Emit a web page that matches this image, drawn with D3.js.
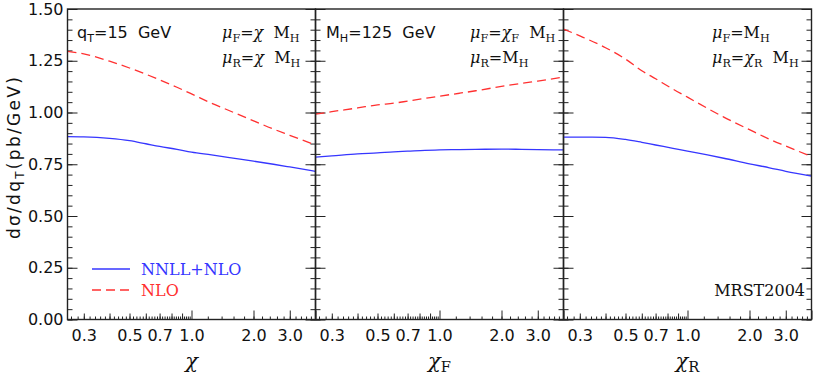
<!DOCTYPE html>
<html>
<head>
<meta charset="utf-8">
<script src="https://cdn.jsdelivr.net/npm/d3@7/dist/d3.min.js"></script>
<style>
body { margin: 0; background: #fff; }
text { fill: #111; white-space: pre; }
.sans { font-family: "DejaVu Sans", sans-serif; font-size: 16px; }
.serif { font-family: "DejaVu Serif", serif; font-size: 16px; }
</style>
</head>
<body>
<svg id="chart"></svg>
<script>
const width = 817;
const height = 380;
const plotLeft = 67.5;
const panelWidth = 248;
const plotTop = 9;
const plotBottom = 319.5;

const chi = [0.25, 0.3, 0.4, 0.5, 0.6, 0.7, 0.85, 1.0, 1.25, 1.5, 2.0, 2.5, 3.0, 4.0];

// panel 1: muF = muR = chi MH
const nnllChi = [0.883, 0.882, 0.875, 0.864, 0.849, 0.836, 0.822, 0.809, 0.795, 0.783, 0.765, 0.750, 0.737, 0.716];
const nloChi  = [1.295, 1.283, 1.248, 1.215, 1.185, 1.158, 1.122, 1.090, 1.045, 1.012, 0.960, 0.920, 0.890, 0.843];
// panel 2: muF = chiF MH
const nnllChiF = [0.784, 0.790, 0.800, 0.805, 0.810, 0.813, 0.817, 0.819, 0.821, 0.822, 0.823, 0.822, 0.821, 0.819];
const nloChiF  = [0.992, 1.004, 1.022, 1.037, 1.045, 1.055, 1.068, 1.079, 1.093, 1.105, 1.126, 1.141, 1.152, 1.171];
// panel 3: muR = chiR MH
const nnllChiR = [0.881, 0.881, 0.880, 0.870, 0.856, 0.843, 0.827, 0.813, 0.795, 0.779, 0.752, 0.733, 0.716, 0.693];
const nloChiR  = [1.403, 1.370, 1.313, 1.258, 1.202, 1.163, 1.113, 1.074, 1.020, 0.978, 0.917, 0.871, 0.838, 0.787];

const xLabels = [0.3, 0.5, 0.7, 1.0, 2.0, 3.0];
const xMajor = [1, 2, 3, 4];
const xMedium = [0.3, 0.4, 0.5, 0.6, 0.7, 0.8, 0.9];
const xMinor = d3.range(0.26, 0.99, 0.02).concat(d3.range(1.2, 3.9, 0.2));
const yMajor = [0, 0.25, 0.5, 0.75, 1.0, 1.25, 1.5];
const yMinor = d3.range(0, 1.51, 0.05);

const blue = '#3636ff';
const red = '#ff3030';

const svg = d3.select('#chart').attr('width', width).attr('height', height);

const y = d3.scaleLinear().domain([0, 1.5]).range([plotBottom, plotTop]);

function richText(sel, x, yy, parts, cls) {
  const t = sel.append('text').attr('x', x).attr('y', yy).attr('class', cls);
  let shift = 0;
  parts.forEach(p => {
    const s = p.sub ? 4 : 0;
    const ts = t.append('tspan').text(p.t).attr('dy', s - shift);
    if (p.sub) ts.style('font-size', '70%');
    if (p.it) ts.style('font-style', 'italic');
    if (p.dx) ts.attr('dx', p.dx);
    shift = s;
  });
  return t;
}

const panels = [
  {nnll: nnllChi, nlo: nloChi, sub: ''},
  {nnll: nnllChiF, nlo: nloChiF, sub: 'F'},
  {nnll: nnllChiR, nlo: nloChiR, sub: 'R'}
];

panels.forEach((p, i) => {
  const x0 = plotLeft + i * panelWidth;
  const x = d3.scaleLog().domain([0.25, 4]).range([x0, x0 + panelWidth]);
  const g = svg.append('g');

  const tickAxis = (vals, len) => {
    g.append('g').attr('transform', `translate(0, ${plotBottom})`)
      .call(d3.axisBottom(x).tickValues(vals).tickSize(-len).tickFormat(''))
      .call(a => a.select('.domain').remove())
      .selectAll('line').attr('stroke', '#222');
  };
  tickAxis(xMinor, 3);
  tickAxis(xMedium, 6);
  tickAxis(xMajor, 9);

  g.append('g').attr('transform', `translate(0, ${plotBottom})`)
    .call(d3.axisBottom(x).tickValues(xLabels).tickSize(0).tickPadding(10).tickFormat(d3.format('.1f')))
    .call(a => a.select('.domain').remove())
    .selectAll('text').attr('class', 'sans').style('font-size', '16px').attr('fill', '#111');

  [[d3.axisLeft, x0], [d3.axisRight, x0 + panelWidth]].forEach(([ax, pos]) => {
    g.append('g').attr('transform', `translate(${pos}, 0)`)
      .call(ax(y).tickValues(yMinor).tickSize(-5).tickFormat(''))
      .call(a => a.select('.domain').remove())
      .selectAll('line').attr('stroke', '#222');
    g.append('g').attr('transform', `translate(${pos}, 0)`)
      .call(ax(y).tickValues(yMajor).tickSize(-10).tickFormat(''))
      .call(a => a.select('.domain').remove())
      .selectAll('line').attr('stroke', '#222');
  });

  const line = vals => d3.line()
    .x((d, j) => x(chi[j]))
    .y(d => y(d))
    .curve(d3.curveMonotoneX)(vals);

  g.append('path').attr('d', line(p.nlo))
    .attr('fill', 'none').attr('stroke', red).attr('stroke-width', 1.3)
    .attr('stroke-dasharray', '9,5');
  g.append('path').attr('d', line(p.nnll))
    .attr('fill', 'none').attr('stroke', blue).attr('stroke-width', 1.3);

  g.append('rect').attr('x', x0).attr('y', plotTop)
    .attr('width', panelWidth).attr('height', plotBottom - plotTop)
    .attr('fill', 'none').attr('stroke', '#222').attr('stroke-width', 1.4);

  richText(g, x0 + panelWidth / 2, 368, [{t: 'χ', it: true}, {t: p.sub, sub: true}], 'serif')
    .style('font-size', '21px').attr('text-anchor', 'middle');
});

// y tick labels
svg.append('g').attr('transform', `translate(${plotLeft}, 0)`)
  .call(d3.axisLeft(y).tickValues(yMajor).tickSize(0).tickPadding(4).tickFormat(d3.format('.2f')))
  .call(a => a.select('.domain').remove())
  .selectAll('text').attr('class', 'sans').style('font-size', '16px').attr('fill', '#111');

// y title
richText(svg.append('g').attr('transform', 'translate(20, 157) rotate(-90)'), 0, 0,
  [{t: 'dσ/dq'}, {t: 'T', sub: true}, {t: '(pb/GeV)'}], 'sans')
  .attr('text-anchor', 'middle').style('font-size', '17px').style('letter-spacing', '2.3px');

// annotations
richText(svg, 77, 38, [{t: 'q'}, {t: 'T', sub: true}, {t: '=15  GeV'}], 'sans');
richText(svg, 222, 38, [{t: 'μ', it: true}, {t: 'F', sub: true}, {t: '='}, {t: 'χ', it: true}, {t: '  M'}, {t: 'H', sub: true}], 'serif');
richText(svg, 222, 63, [{t: 'μ', it: true}, {t: 'R', sub: true}, {t: '='}, {t: 'χ', it: true}, {t: '  M'}, {t: 'H', sub: true}], 'serif');

richText(svg, 326, 38, [{t: 'M'}, {t: 'H', sub: true}, {t: '=125  GeV'}], 'sans');
richText(svg, 470, 38, [{t: 'μ', it: true}, {t: 'F', sub: true}, {t: '='}, {t: 'χ', it: true}, {t: 'F', sub: true}, {t: '  M'}, {t: 'H', sub: true}], 'serif');
richText(svg, 470, 63, [{t: 'μ', it: true}, {t: 'R', sub: true}, {t: '=M'}, {t: 'H', sub: true}], 'serif');

richText(svg, 712, 38, [{t: 'μ', it: true}, {t: 'F', sub: true}, {t: '=M'}, {t: 'H', sub: true}], 'serif');
richText(svg, 712, 63, [{t: 'μ', it: true}, {t: 'R', sub: true}, {t: '='}, {t: 'χ', it: true}, {t: 'R', sub: true}, {t: '  M'}, {t: 'H', sub: true}], 'serif');

svg.append('text').attr('class', 'serif').attr('x', 805).attr('y', 296)
  .attr('text-anchor', 'end').text('MRST2004');

// legend
const legend = [
  {label: 'NNLL+NLO', color: blue, dash: null},
  {label: 'NLO', color: red, dash: '9,5'}
];
legend.forEach((d, i) => {
  const ly = 269 + i * 21;
  svg.append('line').attr('x1', 92).attr('x2', 130).attr('y1', ly).attr('y2', ly)
    .attr('stroke', d.color).attr('stroke-width', 1.3).attr('stroke-dasharray', d.dash);
  svg.append('text').attr('class', 'serif').attr('x', 141).attr('y', ly + 6)
    .style('fill', d.color).text(d.label);
});
</script>
</body>
</html>
